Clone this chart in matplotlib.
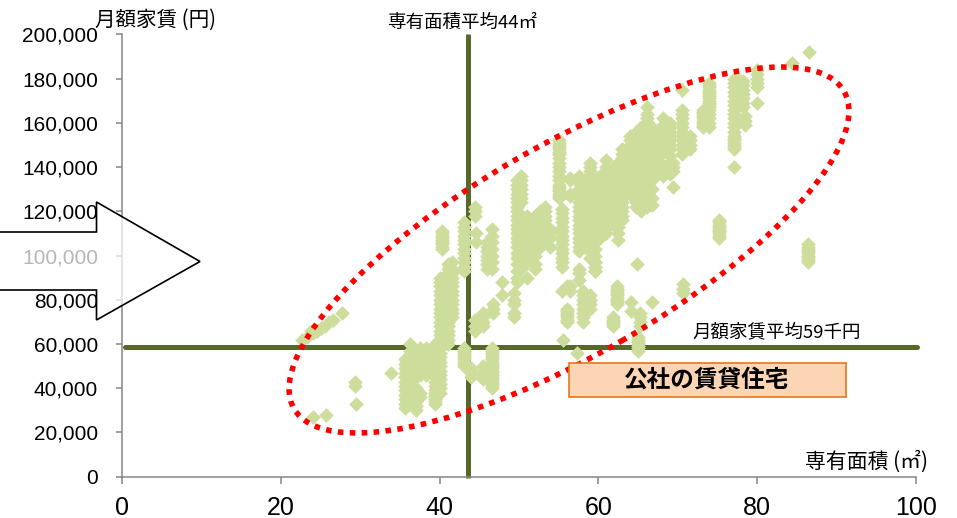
import matplotlib.pyplot as plt
from matplotlib.patches import Ellipse, Polygon, Rectangle
from matplotlib.ticker import FuncFormatter
from matplotlib.transforms import IdentityTransform

# rent values are in thousand yen, one list of rents per floor area
tail_area = [22.6, 23.2, 23.8, 24.0, 24.5, 25.0, 25.5, 26.0, 26.5, 27.7]
tail_rent = [62, 63, 66, 65, 66, 67, 68, 70, 71, 74]

stray_area = [24.0, 25.6, 29.3, 29.3, 29.5, 33.9, 55.5, 57.3, 64.9, 70.5, 69.4, 77.1, 84.4, 86.5, 61.8, 66.8,
              70.7, 70.7, 70.7]
stray_rent = [27, 28, 43, 41, 33, 47, 62, 56, 96, 175, 131, 140, 187, 192, 70, 79, 83, 85, 87]

low_area = [35.6, 36.2, 37.0, 37.5, 38.2, 39.4, 40.0, 40.3, 41.0, 41.6]
low_rent = [
    [31, 33, 35, 37, 39, 41, 43, 45, 47, 49, 51, 53],
    [33, 35, 37, 39, 41, 43, 45, 47, 49, 51, 53, 55, 57, 60],
    [30, 32, 34, 36, 38, 40, 45, 47, 49, 51, 53, 55, 57],
    [36, 38, 46, 48, 50, 52, 54, 56, 58],
    [46, 48, 50, 52, 54, 56, 58],
    [33, 34, 35, 36, 37, 38, 39, 41, 43, 45, 47, 49, 51, 53, 55, 57, 60],
    [38, 40, 42, 44, 46, 48, 50, 52, 54, 56, 58, 60, 62, 64, 66, 68, 70, 72, 74, 76, 78, 80, 82, 84, 86, 88, 90],
    [103, 104, 105, 106, 107, 108, 109, 110, 111],
    [60, 62, 64, 66, 68, 70, 72, 74, 76, 78, 80, 82, 84, 86, 88, 90, 92, 94, 96],
    [72, 74, 76, 78, 80, 82, 84, 86, 88, 90, 92, 94, 97],
]

centre_area = [43.0, 43.9, 44.5, 44.6, 45.4, 46.0, 46.6, 46.7, 47.9, 49.3, 45.5]
centre_rent = [
    [50, 51, 52, 53, 54, 55, 56, 57, 58, 93, 95, 97, 99, 101, 103, 105, 107, 109, 111, 113, 115],
    [45, 47, 49],
    [66, 68, 71, 118, 120, 122],
    [106, 110],
    [68, 70, 72, 74],
    [94, 96, 98, 100, 102, 104, 106],
    [40, 41, 42, 43, 44, 45, 46, 47, 48, 49, 50, 51, 52, 53, 54, 55, 56, 57, 58, 94, 97, 100, 103, 106, 109, 112],
    [74, 76, 78],
    [82, 88],
    [72, 74, 78, 80, 83],
    [44, 46, 48, 50],
]

mid_area = [49.7, 50.3, 51.0, 52.0, 52.6, 53.3, 53.9, 55.0, 55.4, 56.4, 57.6, 58.2, 59.0, 59.6, 60.2, 61.0, 62.0, 62.5, 63.0]
mid_rent = [
    [88, 90, 93, 96, 99, 101, 104, 106, 108, 110, 112, 114, 116, 118, 120, 122, 124, 126, 128, 130, 132, 134],
    [94, 96, 98, 100, 102, 104, 106, 108, 110, 112, 114, 116, 118, 124, 126, 128, 130, 132, 134, 136],
    [90, 97, 100, 102, 104, 106, 108, 110, 112, 114, 116, 118],
    [94, 96, 100, 102, 104, 106, 108, 110, 112, 114, 116, 118],
    [104, 106, 108, 110, 112, 114, 116, 118, 120],
    [106, 108, 110, 112, 114, 116, 118, 120, 122],
    [104, 108, 110, 112],
    [126, 127, 128, 129, 130, 131, 132, 134, 136, 138, 140, 142, 144, 146, 147, 148, 149, 150, 151, 152],
    [95, 97, 99, 101, 103, 105, 107, 109, 111, 113, 115, 117, 119, 121],
    [127, 128, 134, 135],
    [102, 104, 106, 108, 110, 112, 114, 116, 118, 120, 122, 124, 127, 130, 133, 136],
    [104, 106, 108, 110, 112, 114, 116, 118, 120, 122, 124, 126, 128, 130, 132, 134],
    [99, 102, 105, 108, 110, 112, 114, 116, 118, 120, 122, 124, 126, 128, 130, 132, 134, 136, 138, 140, 142],
    [93, 95, 97, 100, 103, 106, 110, 112, 114, 116, 118, 120, 122, 124, 126, 128, 130, 132, 134],
    [108, 110, 112, 114, 116, 118, 120, 122, 124, 126, 128, 130, 132, 134, 136],
    [110, 112, 114, 116, 118, 120, 122, 124, 126, 128, 130, 132, 134, 136, 138, 140, 143],
    [114, 116, 118, 120, 122, 124, 126, 128, 130, 132, 134, 136, 138, 140],
    [107, 110, 113, 116, 119, 122, 124, 126, 128, 130, 132, 134, 136, 138, 140, 142],
    [116, 118, 120, 122, 124, 126, 128, 130, 132, 134, 136, 138, 140, 142, 144, 146, 148],
]

upper_area = [64.0, 64.8, 65.4, 66.1, 66.8, 67.4, 68.2, 69.0, 69.4, 70.5, 71.5, 73.2, 74.0, 77.1, 77.6, 78.2, 78.5, 80.0, 75.2, 86.4]
upper_rent = [
    [128, 130, 132, 134, 136, 138, 140, 142, 144, 146, 148, 150, 152, 154],
    [122, 124, 126, 128, 130, 132, 134, 136, 138, 140, 142, 144, 146, 148, 150, 152, 154, 156],
    [120, 122, 124, 128, 130, 132, 134, 136, 138, 140, 142, 144, 146, 148, 150, 152, 154, 156, 158],
    [122, 125, 128, 130, 132, 134, 136, 138, 140, 142, 144, 146, 148, 150, 152, 154, 156, 158, 160, 162, 164, 167],
    [123, 126, 130, 134, 136, 138, 140, 142, 144, 146, 148, 150, 152, 154, 156, 158],
    [137, 139, 141, 143, 145, 147, 149, 151, 153],
    [136, 138, 141, 147, 150, 153, 155, 157, 159, 162],
    [137, 140, 142, 145, 148, 150, 152, 154, 156, 158, 160],
    [138, 140, 142],
    [146, 148, 150, 152, 154, 156, 158, 160, 162, 164, 166],
    [148, 150, 152, 154],
    [158, 159, 160, 161, 162, 163, 164, 165, 166],
    [158, 160, 162, 164, 166, 167, 168, 169, 170, 171, 172, 173, 174, 175, 176, 177, 178],
    [148, 149, 150, 151, 152, 153, 154, 156, 158, 160, 162, 164, 166, 168, 170, 172, 174, 176, 178, 180],
    [168, 170, 172, 174, 176, 178, 180],
    [167, 169, 171, 173, 175, 177, 179],
    [159, 161, 163],
    [169, 176, 178, 180, 182, 184],
    [108, 109, 110, 111, 112, 113, 114, 115, 116],
    [97, 98, 99, 100, 101, 102, 103, 104, 105],
]

south_area = [55.4, 56.0, 56.4, 57.6, 58.0, 59.0, 59.6, 62.4, 61.8, 64.1, 65.0, 65.2]
south_rent = [
    [84],
    [70, 71, 72, 73, 74, 75, 76, 86],
    [84, 86],
    [89, 92, 94],
    [70, 72, 74, 76, 78, 80, 82, 84],
    [76, 78, 80, 82],
    [93, 95, 97],
    [78, 79, 80, 81, 82, 83, 84, 85, 86],
    [68, 69, 70, 71, 72],
    [75, 79],
    [57, 58, 59, 60, 61, 62, 63],
    [68, 70, 72, 74],
]

tick_area = [0, 20, 40, 60, 80, 100]
tick_rent = [0, 20000, 40000, 60000, 80000, 100000, 120000, 140000, 160000, 180000, 200000]

mean_area = 43.5
mean_rent = 58.8

plt.rcParams['font.family'] = ['Liberation Sans', 'Noto Sans CJK JP']

POINT_COLOR = '#CDDD9C'
LINE_COLOR = '#55692B'
AXIS_COLOR = '#868686'
JP_FONT = ['Noto Sans CJK JP', 'DejaVu Sans']

fig = plt.figure(figsize=(9.57, 5.18), dpi=100)
ax = fig.add_axes([122.5 / 957, 41.3 / 518, 793.2 / 957, 442.4 / 518])
ax.set_xlim(0, 100)
ax.set_ylim(0, 200000)

# averages sit under the points
ax.plot([0.3, 100.2], [mean_rent * 1000] * 2, color=LINE_COLOR, lw=3.6,
        solid_capstyle='round', clip_on=False, zorder=2)
ax.plot([mean_area] * 2, [-800, 200000], color=LINE_COLOR, lw=3.6,
        solid_capstyle='butt', clip_on=False, zorder=2)

xs = list(tail_area) + list(stray_area)
ys = list(tail_rent) + list(stray_rent)
for areas, rents in [(low_area, low_rent), (centre_area, centre_rent), (mid_area, mid_rent),
                     (upper_area, upper_rent), (south_area, south_rent)]:
    for area, stack in zip(areas, rents):
        xs += [area] * len(stack)
        ys += stack
ax.scatter(xs, [y * 1000 for y in ys], marker='D', s=56, color=POINT_COLOR, linewidths=0, zorder=3)

for side in ['top', 'right']:
    ax.spines[side].set_visible(False)
for side in ['left', 'bottom']:
    ax.spines[side].set_color(AXIS_COLOR)
    ax.spines[side].set_linewidth(1.1)
ax.set_xticks(tick_area)
ax.set_yticks(tick_rent)
ax.yaxis.set_major_formatter(FuncFormatter(lambda v, _: f'{int(v):,}'))
ax.tick_params(axis='x', length=5, width=1.1, color=AXIS_COLOR, labelsize=18, pad=9)
ax.tick_params(axis='y', length=4.5, width=1.1, color=AXIS_COLOR, labelsize=15, pad=13)

# annotations are placed in pixels from the lower left corner of the figure
px = IdentityTransform()
ring = Ellipse((569, 268), 635, 210, angle=30, fill=False, edgecolor='#FF0000', lw=4,
               linestyle=(0, (1, 1.15)), transform=px, clip_on=False, zorder=5)
fig.add_artist(ring)

arrow = Polygon([(-3, 286), (96.5, 286), (96.5, 316), (200, 256.5), (96.5, 198), (96.5, 228), (-3, 228)],
                closed=True, facecolor=(1, 1, 1, 0.72), edgecolor='black', lw=1.2,
                transform=px, clip_on=False, zorder=6)
fig.add_artist(arrow)

box = Rectangle((568.5, 121.5), 277.5, 34, facecolor='#FCD5B5', edgecolor='#E8751A', lw=1.2,
                transform=px, clip_on=False, zorder=6)
fig.add_artist(box)

fig.text(707, 138.5, '公社の賃貸住宅', transform=px, family=JP_FONT, fontsize=17, fontweight='bold',
         ha='center', va='center', zorder=7)
fig.text(95, 498, '月額家賃 (円)', transform=px, family=JP_FONT, fontsize=14.8, ha='left', va='center')
fig.text(387, 495, f'専有面積平均{mean_area:.0f}㎡', transform=px, family=JP_FONT, fontsize=13.3,
         ha='left', va='center')
fig.text(692, 186, f'月額家賃平均{mean_rent:.0f}千円', transform=px, family=JP_FONT, fontsize=13.3,
         ha='left', va='center')
fig.text(805, 56, '専有面積 (㎡)', transform=px, family=JP_FONT, fontsize=15, ha='left', va='center')

fig.savefig('out.png', dpi=100)
